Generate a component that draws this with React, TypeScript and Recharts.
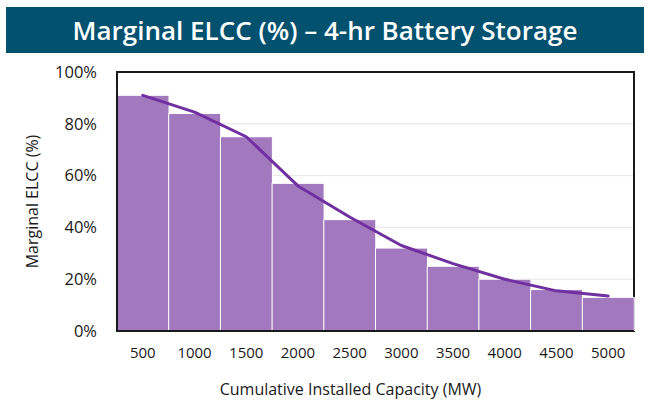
import React from "react";
import {
  ComposedChart,
  Bar,
  Line,
  XAxis,
  YAxis,
  CartesianGrid,
  ReferenceArea,
  Label,
} from "recharts";

const capacities = ["500", "1000", "1500", "2000", "2500", "3000", "3500", "4000", "4500", "5000"];
const barElcc = [91, 84, 75, 57, 43, 32, 25, 20, 16, 13];
const curveElcc = [91, 84.5, 75, 56, 44, 33, 26, 20, 15.5, 13.5];
const yTicks = [0, 20, 40, 60, 80, 100];

const data = capacities.map((c, i) => ({ cap: c, bar: barElcc[i], curve: curveElcc[i] }));

const FONT = "'Open Sans', sans-serif";

const YTitle = (props: any) => {
  const vb = props.viewBox;
  const cx = vb.x + 32;
  const cy = vb.y + vb.height / 2;
  return (
    <text
      x={cx}
      y={cy}
      transform={`rotate(-90, ${cx}, ${cy})`}
      textAnchor="middle"
      dominantBaseline="central"
      fontFamily={FONT}
      fontSize={16}
      fill="#1a1a1a"
    >
      Marginal ELCC (%)
    </text>
  );
};

const XTitle = (props: any) => {
  const vb = props.viewBox;
  return (
    <text
      x={vb.x + vb.width / 2 - 25}
      y={vb.y + 58}
      textAnchor="middle"
      dominantBaseline="central"
      fontFamily={FONT}
      fontSize={16}
      fill="#1a1a1a"
    >
      Cumulative Installed Capacity (MW)
    </text>
  );
};

export default function App() {
  return (
    <div style={{ position: "absolute", left: 0, top: 0, width: 650, height: 401, background: "#fff" }}>
      <div
        style={{
          position: "absolute",
          left: 6,
          top: 7,
          width: 638,
          height: 46,
          background: "#02516f",
          color: "#fff",
          fontFamily: FONT,
          fontWeight: 600,
          fontSize: 26,
          lineHeight: "46px",
          textAlign: "center",
        }}
      >
        Marginal ELCC (%) – 4-hr Battery Storage
      </div>
      <div style={{ position: "absolute", left: 0, top: 0 }}>
        <ComposedChart
          width={650}
          height={401}
          data={data}
          margin={{ top: 72, right: 16, bottom: 0, left: 0 }}
          barCategoryGap={0}
        >
          <CartesianGrid vertical={false} stroke="#e6e6e6" strokeWidth={1} />
          <XAxis
            dataKey="cap"
            height={70}
            tickLine={false}
            tickSize={0}
            tickMargin={16}
            axisLine={{ stroke: "#1a1a1a", strokeWidth: 2 }}
            tick={{ fontFamily: FONT, fontSize: 15, fill: "#1a1a1a" }}
            interval={0}
          >
            <Label content={<XTitle />} />
          </XAxis>
          <YAxis
            width={117}
            domain={[0, 100]}
            ticks={yTicks}
            tickFormatter={(v: number) => `${v}%`}
            tickLine={false}
            tickSize={0}
            tickMargin={20}
            axisLine={{ stroke: "#1a1a1a", strokeWidth: 2 }}
            tick={{ fontFamily: FONT, fontSize: 16.5, fill: "#1a1a1a" }}
          >
            <Label content={<YTitle />} />
          </YAxis>
          <Bar dataKey="bar" fill="#a279be" stroke="#ffffff" strokeWidth={1} isAnimationActive={false} />
          <Line
            dataKey="curve"
            type="linear"
            stroke="#7030a0"
            strokeWidth={3}
            strokeLinejoin="round"
            strokeLinecap="round"
            dot={false}
            activeDot={false}
            isAnimationActive={false}
          />
          <ReferenceArea y1={0} y2={100} fill="none" stroke="#1a1a1a" strokeWidth={2} ifOverflow="visible" />
        </ComposedChart>
      </div>
    </div>
  );
}
